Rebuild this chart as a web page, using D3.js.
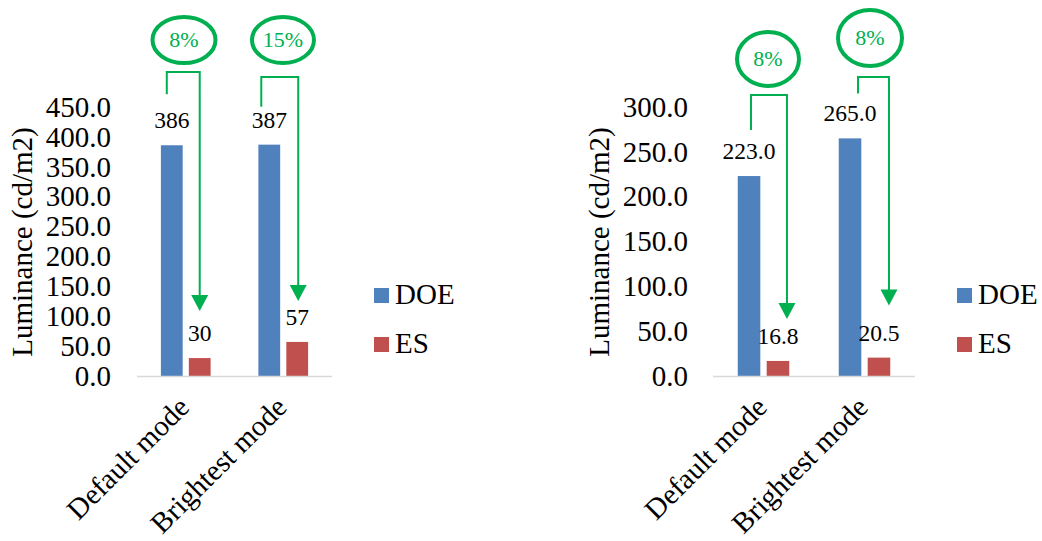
<!DOCTYPE html>
<html>
<head>
<meta charset="utf-8">
<script src="https://cdn.jsdelivr.net/npm/d3@7"></script>
<style>
  body { margin: 0; background: #fff; }
  svg, svg text { font-family: "Liberation Serif", "Times New Roman", "DejaVu Serif", serif; }
</style>
</head>
<body>
<div id="chart"></div>
<script>
const categories = ["Default mode", "Brightest mode"];
const series = ["DOE", "ES"];

const leftDOE = [386, 387];
const leftES = [30, 57];
const leftTicks = [0, 50, 100, 150, 200, 250, 300, 350, 400, 450];
const leftPercent = ["8%", "15%"];

const rightDOE = [223.0, 265.0];
const rightES = [16.8, 20.5];
const rightTicks = [0, 50, 100, 150, 200, 250, 300];
const rightPercent = ["8%", "8%"];

const colors = { DOE: "#4f81bd", ES: "#c0504d" };
const green = "#00b050";
const serif = '"Liberation Serif", "Times New Roman", "DejaVu Serif", serif';

const svg = d3.select('#chart')
  .append('svg')
  .attr('width', 1042)
  .attr('height', 541);

// annotation layout (pixel offsets relative to the bars / labels)
const leftNotes = [
  { sx: -5, sy: -34, elbowY: 72, ex: 0, ey: -30, cx: 184, cy: 40, rx: 31.5, ry: 23 },
  { sx: -8, sy: -21, elbowY: 77, ex: 1, ey: -24, cx: 283, cy: 40, rx: 31, ry: 23 }
];
const rightNotes = [
  { sx: 2, sy: -29, elbowY: 95, ex: 9, ey: -25, cx: 768, cy: 59, rx: 31, ry: 27 },
  { sx: 8, sy: -28, elbowY: 77, ex: 10, ey: -35, cx: 870, cy: 38, rx: 32, ry: 28 }
];

function drawChart(opt) {
  const g = svg.append('g');

  const x0 = d3.scaleBand()
    .domain(categories)
    .range([opt.left, opt.right])
    .padding(0);

  const y = d3.scaleLinear()
    .domain([0, opt.max])
    .range([376, 107]);

  const group = x0.bandwidth() * 0.51;
  const x1 = d3.scaleBand()
    .domain(series)
    .range([x0.bandwidth() / 2 - group / 2, x0.bandwidth() / 2 + group / 2])
    .paddingInner(0.22);

  const rows = categories.map((c, i) => ({ cat: c, DOE: opt.doe[i], ES: opt.es[i] }));

  // y tick labels only (no axis line)
  const yAxis = g.append('g')
    .attr('transform', `translate(${opt.left},0)`)
    .call(d3.axisLeft(y).tickValues(opt.ticks).tickFormat(d3.format('.1f')).tickSize(0).tickPadding(opt.left - opt.tickX));
  yAxis.attr('font-family', serif);
  yAxis.select('.domain').remove();
  yAxis.selectAll('text')
    .attr('font-size', 29)
    .attr('fill', '#000');

  // axis title
  g.append('text')
    .attr('transform', `translate(${opt.titleX},242) rotate(-90)`)
    .attr('text-anchor', 'middle')
    .attr('font-family', serif)
    .attr('font-size', 29)
    .text('Luminance (cd/m2)');

  // bars
  const groups = g.selectAll('.cat')
    .data(rows)
    .enter().append('g')
    .attr('transform', d => `translate(${x0(d.cat)},0)`);

  groups.selectAll('rect')
    .data(d => series.map(s => ({ key: s, value: d[s] })))
    .enter().append('rect')
    .attr('x', d => x1(d.key))
    .attr('y', d => y(d.value))
    .attr('width', x1.bandwidth())
    .attr('height', d => y(0) - y(d.value))
    .attr('fill', d => colors[d.key]);

  groups.selectAll('text.val')
    .data(d => series.map(s => ({ key: s, value: d[s] })))
    .enter().append('text')
    .attr('class', 'val')
    .attr('x', d => x1(d.key) + x1.bandwidth() / 2)
    .attr('y', d => y(d.value) - 17)
    .attr('text-anchor', 'middle')
    .attr('font-family', serif)
    .attr('font-size', 23.5)
    .text(d => d3.format(opt.valFmt)(d.value));

  // x axis line
  g.append('line')
    .attr('x1', opt.left).attr('x2', opt.right)
    .attr('y1', y(0) + 0.5).attr('y2', y(0) + 0.5)
    .attr('stroke', '#d9d9d9')
    .attr('stroke-width', 1.5);

  // category labels
  g.selectAll('.xlab')
    .data(categories)
    .enter().append('text')
    .attr('class', 'xlab')
    .attr('transform', d => `translate(${x0(d) + x0.bandwidth() / 2 + 5},409) rotate(-45)`)
    .attr('text-anchor', 'end')
    .attr('font-family', serif)
    .attr('font-size', 29)
    .text(d => d);

  // legend
  const legend = g.append('g')
    .attr('transform', `translate(${opt.right + 42},288)`);
  legend.selectAll('rect')
    .data(series)
    .enter().append('rect')
    .attr('y', (d, i) => i * 49)
    .attr('width', 15)
    .attr('height', 15)
    .attr('fill', d => colors[d]);
  legend.selectAll('text')
    .data(series)
    .enter().append('text')
    .attr('x', 21)
    .attr('y', (d, i) => i * 49 + 16)
    .attr('font-family', serif)
    .attr('font-size', 29)
    .text(d => d);

  // green annotations
  opt.notes.forEach((n, i) => {
    const c = categories[i];
    const sx = x0(c) + x1('DOE') + x1.bandwidth() / 2 + n.sx;
    const sy = y(opt.doe[i]) - 17 + n.sy;
    const ex = x0(c) + x1('ES') + x1.bandwidth() / 2 + n.ex;
    const tip = y(opt.es[i]) - 17 + n.ey;

    g.append('path')
      .attr('d', `M${sx},${sy} V${n.elbowY} H${ex} V${tip - 14}`)
      .attr('fill', 'none')
      .attr('stroke', green)
      .attr('stroke-width', 2);

    g.append('path')
      .attr('d', `M${ex - 8.5},${tip - 16} L${ex + 8.5},${tip - 16} L${ex},${tip} Z`)
      .attr('fill', green);

    g.append('ellipse')
      .attr('cx', n.cx).attr('cy', n.cy)
      .attr('rx', n.rx).attr('ry', n.ry)
      .attr('fill', 'none')
      .attr('stroke', green)
      .attr('stroke-width', 4);

    g.append('text')
      .attr('x', n.cx)
      .attr('y', n.cy + 7)
      .attr('text-anchor', 'middle')
      .attr('fill', green)
      .attr('font-family', serif)
      .attr('font-size', 22)
      .text(opt.percent[i]);
  });
}

drawChart({
  left: 137, right: 332, max: 450, ticks: leftTicks, tickX: 111, titleX: 32,
  doe: leftDOE, es: leftES, valFmt: 'd', percent: leftPercent, notes: leftNotes
});

drawChart({
  left: 713, right: 915, max: 300, ticks: rightTicks, tickX: 688, titleX: 609,
  doe: rightDOE, es: rightES, valFmt: '.1f', percent: rightPercent, notes: rightNotes
});
</script>
</body>
</html>
